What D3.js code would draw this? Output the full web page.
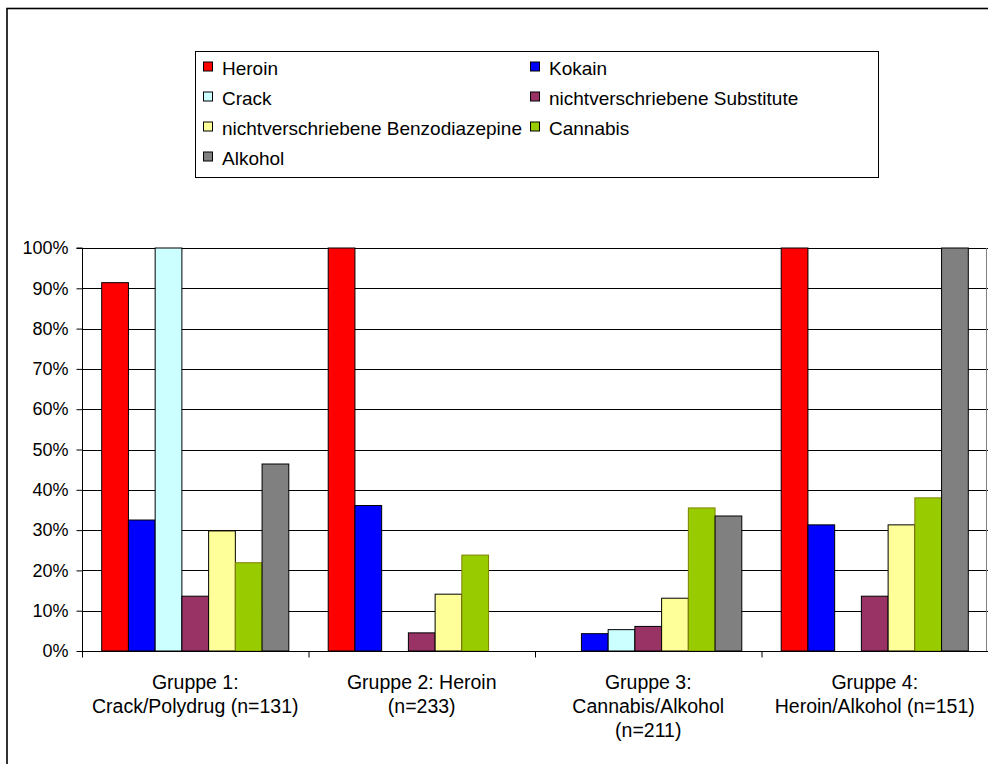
<!DOCTYPE html>
<html>
<head>
<meta charset="utf-8">
<script src="https://cdn.jsdelivr.net/npm/d3@7/dist/d3.min.js"></script>
<style>
  html, body { margin: 0; padding: 0; background: #fff; }
  svg { display: block; }
  text { font-family: "Liberation Sans", Arial, sans-serif; fill: #000; }
</style>
</head>
<body>
<svg id="chart" width="988" height="764"></svg>
<script>
// ---- data ----
const groups = [
  ["Gruppe 1:", "Crack/Polydrug (n=131)"],
  ["Gruppe 2: Heroin", "(n=233)"],
  ["Gruppe 3:", "Cannabis/Alkohol", "(n=211)"],
  ["Gruppe 4:", "Heroin/Alkohol (n=151)"]
];
const series = ["Heroin", "Kokain", "Crack", "nichtverschriebene Substitute",
                "nichtverschriebene Benzodiazepine", "Cannabis", "Alkohol"];
const colors = ["#FF0000", "#0000FF", "#CCFFFF", "#993366", "#FFFF99", "#99CC00", "#808080"];
const strokes = ["#000", "#000", "#000", "#000", "#000", "#808000", "#000"];
// values in percent, one array per series (across the 4 groups)
const heroin   = [91.4, 100, 0, 100];
const kokain   = [32.5, 36.1, 4.3, 31.3];
const crack    = [100, 0, 5.3, 0];
const subst    = [13.6, 4.5, 6.1, 13.6];
const benzo    = [29.8, 14.1, 13.1, 31.3];
const cannabis = [21.9, 23.8, 35.5, 38.0];
const alkohol  = [46.4, 0, 33.5, 100];
const values = [heroin, kokain, crack, subst, benzo, cannabis, alkohol];
const yTicks = [0, 10, 20, 30, 40, 50, 60, 70, 80, 90, 100];
// legend order (row-major, two columns)
const legendOrder = [0, 1, 2, 3, 4, 5, 6];

// ---- layout ----
const svg = d3.select("#chart");
const L = 82, R = 988, T = 248, B = 651;

// outer chart border
svg.append("rect").attr("x", 7).attr("y", 8.5).attr("width", 1100).attr("height", 900)
  .attr("fill", "none").attr("stroke", "#000").attr("stroke-width", 1.6);

const gIdx = d3.range(groups.length);
const x0 = d3.scaleBand().domain(gIdx).range([L, R]).paddingInner(0).paddingOuter(0);
const bw = x0.bandwidth();
const gap = bw * 0.174;
const x1 = d3.scaleBand().domain(d3.range(series.length)).range([gap / 2, bw - gap / 2]);
const y = d3.scaleLinear().domain([0, 100]).range([B, T]);

// gridlines
svg.append("g").selectAll("line").data(yTicks.filter(d => d > 0)).join("line")
  .attr("x1", L).attr("x2", R).attr("y1", d => Math.round(y(d)) + 0.5).attr("y2", d => Math.round(y(d)) + 0.5)
  .attr("stroke", "#000").attr("stroke-width", 1);

// plot area right border
svg.append("line").attr("x1", R - 1.5).attr("x2", R - 1.5).attr("y1", T).attr("y2", B)
  .attr("stroke", "#808080").attr("stroke-width", 1);

// bars
const bars = [];
values.forEach((arr, si) => arr.forEach((v, gi) => { if (v > 0) bars.push({ si, gi, v }); }));
svg.append("g").selectAll("rect").data(bars).join("rect")
  .attr("x", d => x0(d.gi) + x1(d.si))
  .attr("y", d => y(d.v))
  .attr("width", x1.bandwidth())
  .attr("height", d => B - y(d.v))
  .attr("fill", d => colors[d.si])
  .attr("stroke", d => strokes[d.si])
  .attr("stroke-width", 1);

// y axis
const yAxis = d3.axisLeft(y).tickValues(yTicks).tickFormat(d => d + "%").tickSize(6).tickPadding(8);
const gy = svg.append("g").attr("transform", `translate(${L + 0.5},0)`).call(yAxis);
gy.select(".domain").attr("stroke", "#000").attr("d", `M-6,${T}H0V${B}`);
gy.selectAll(".tick line").attr("stroke", "#000");
gy.selectAll(".tick text").style("font-size", "18px").style("font-family", "Liberation Sans, Arial, sans-serif").attr("fill", "#000");

// x axis line + ticks at category boundaries
const xb = d3.scaleLinear().domain([0, groups.length]).range([L, R]);
const gx = svg.append("g").attr("transform", `translate(0,${B + 0.5})`)
  .call(d3.axisBottom(xb).tickValues(d3.range(0, groups.length + 1)).tickSize(6).tickFormat(""));
gx.select(".domain").attr("stroke", "#000").attr("d", `M${L},0H${R}`);
gx.selectAll(".tick line").attr("stroke", "#000");

// category labels
const cat = svg.append("g");
groups.forEach((lines, gi) => {
  const cx = x0(gi) + bw / 2;
  const t = cat.append("text").attr("text-anchor", "middle").style("font-size", "19.5px");
  lines.forEach((ln, li) => {
    t.append("tspan").attr("x", cx).attr("y", 689 + li * 24).text(ln);
  });
});

// legend
const lg = svg.append("g");
lg.append("rect").attr("x", 195.5).attr("y", 51.5).attr("width", 683).attr("height", 126)
  .attr("fill", "#fff").attr("stroke", "#000").attr("stroke-width", 1);
const colX = [203, 530];
legendOrder.forEach((si, i) => {
  const col = i % 2, row = Math.floor(i / 2);
  const cy = 67.5 + row * 30;
  lg.append("rect").attr("x", colX[col] + 0.5).attr("y", cy - 5.5).attr("width", 9).attr("height", 9)
    .attr("fill", colors[si]).attr("stroke", "#000").attr("stroke-width", 1);
  lg.append("text").attr("x", colX[col] + 19).attr("y", cy + 7)
    .style("font-size", "19px").text(series[si]);
});
</script>
</body>
</html>
